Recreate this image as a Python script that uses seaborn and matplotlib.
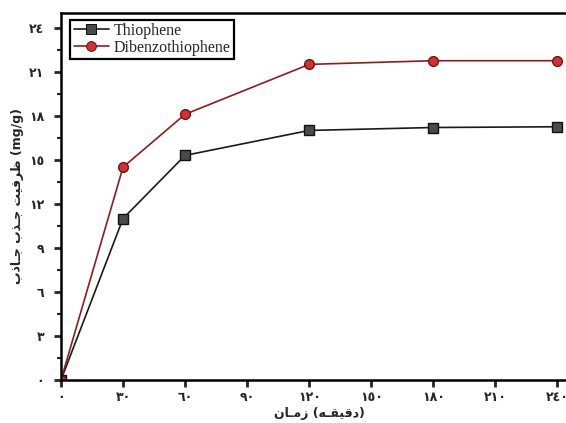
import matplotlib
matplotlib.use("Agg")
import matplotlib.pyplot as plt
import seaborn as sns
import pandas as pd

# Contact time (minutes) and adsorption capacity (mg/g)
time_min = [0, 30, 60, 120, 180, 240]
thiophene = [0.0, 11.0, 15.3, 17.0, 17.2, 17.25]
dibenzothiophene = [0.0, 14.5, 18.1, 21.5, 21.75, 21.75]
series_names = ["Thiophene", "Dibenzothiophene"]

x_ticks = [0, 30, 60, 90, 120, 150, 180, 210, 240]
y_ticks = [0, 3, 6, 9, 12, 15, 18, 21, 24]

# Arabic-Indic digits for tick labels
AR_DIGITS = str.maketrans("0123456789", "٠١٢٣٤٥٦٧٨٩")
x_tick_labels = [str(v).translate(AR_DIGITS) for v in x_ticks]
y_tick_labels = [str(v).translate(AR_DIGITS) for v in y_ticks]

# Axis titles written with Arabic presentation forms (visual order)
x_title = "\uFEE5\uFE8E\u0640\uFEE3\uFEAF (\uFEEA\u0640\uFED8\uFEF4\uFED7\uFEA9)"
y_title = ("\uFE8F\uFEAB\uFE8E\u0640\uFE9F \uFE8F\uFEAC\u0640\uFE9F "
           "\uFE96\uFEF4\uFED3\uFEAE\uFEC7 (mg/g)")

sns.set_style("ticks")
plt.rcParams["font.family"] = ["DejaVu Sans"]

df = pd.DataFrame({
    "time": time_min * 2,
    "capacity": thiophene + dibenzothiophene,
    "series": [series_names[0]] * len(time_min) + [series_names[1]] * len(time_min),
})

fig = plt.figure(figsize=(5.66, 4.23), dpi=100)
ax = fig.add_axes([61 / 566, 43 / 423, 517 / 566, 367 / 423])

sns.lineplot(data=df, x="time", y="capacity", hue="series", style="series",
             markers={"Thiophene": "s", "Dibenzothiophene": "o"}, dashes=False,
             palette={"Thiophene": "#1a1a1a", "Dibenzothiophene": "#8e1c1c"},
             linewidth=1.2, markersize=7, ax=ax, legend=True)

# marker faces
face = {"Thiophene": "#4a4a4a", "Dibenzothiophene": "#cc3333"}
edge = {"Thiophene": "#111111", "Dibenzothiophene": "#7a1010"}
for line, name in zip(ax.lines, series_names):
    line.set_markerfacecolor(face[name])
    line.set_markeredgecolor(edge[name])
    line.set_markeredgewidth(1.0)

ax.set_xlim(0, 250)
ax.set_ylim(0, 25)
ax.set_xticks(x_ticks)
ax.set_xticklabels(x_tick_labels, fontsize=9, fontweight="bold")
ax.set_yticks(y_ticks)
ax.set_yticklabels(y_tick_labels, fontsize=9, fontweight="bold")
ax.set_yticks([1.5 + 3 * i for i in range(8)], minor=True)
ax.tick_params(axis="both", which="major", direction="out", length=5, width=2)
ax.tick_params(axis="x", which="major", pad=3)
ax.tick_params(axis="y", which="major", pad=7)
ax.tick_params(axis="y", which="minor", direction="out", length=3, width=1.5)

for side in ["left", "bottom", "top", "right"]:
    ax.spines[side].set_visible(True)
    ax.spines[side].set_linewidth(1.8)
    ax.spines[side].set_color("black")

ax.set_xlabel(x_title, fontsize=9, fontweight="bold", labelpad=2)
ax.set_ylabel(y_title, fontsize=9, fontweight="bold", labelpad=4)

handles, labels = ax.get_legend_handles_labels()
for h in handles:
    name = h.get_label()
    if name in face:
        h.set_markerfacecolor(face[name])
        h.set_markeredgecolor(edge[name])
leg = ax.legend(handles, labels, loc="upper left", bbox_to_anchor=(0.012, 0.99),
                frameon=True, fancybox=False, edgecolor="black", framealpha=1,
                prop={"family": "Liberation Serif", "size": 11.5},
                handlelength=2.2, handletextpad=0.3, borderpad=0.2,
                labelspacing=0.05, borderaxespad=0.2)
leg.get_frame().set_linewidth(1.6)

fig.savefig("out.png", dpi=100)
